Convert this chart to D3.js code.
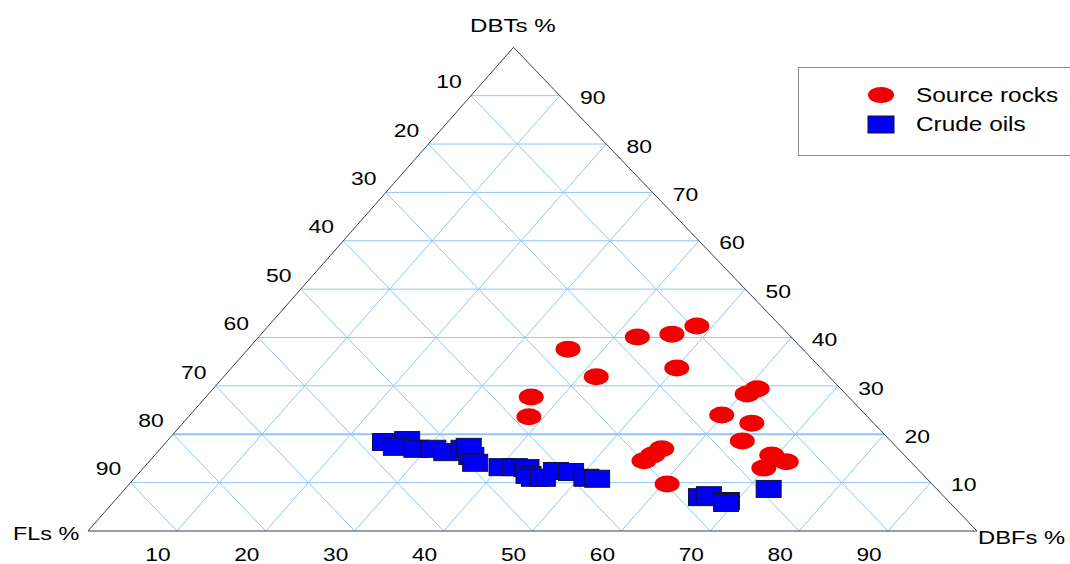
<!DOCTYPE html>
<html>
<head>
<meta charset="utf-8">
<title>Ternary plot - FLs / DBTs / DBFs</title>
<script src="https://d3js.org/d3.v7.min.js"></script>
<style>
    body { margin: 0; background: #fff; }
    svg { display: block; font-family: 'Liberation Sans', Arial, sans-serif; }
</style>
</head>
<body>
<svg id="chart" width="1070" height="564"></svg>
<script>
// Ternary data: [FLs %, DBTs %, DBFs %]
const sourceRocks = [
    [26.4, 37.6, 36.0], [17.3, 40.1, 42.6], [13.1, 40.7, 46.2], [9.4, 42.4, 48.2],
    [26.2, 31.9, 41.9], [16.2, 33.7, 50.1], [35.7, 27.7, 36.6], [38.1, 23.6, 38.3],
    [9.4, 29.4, 61.2], [11.1, 28.3, 60.6], [16.2, 24.0, 59.8], [13.7, 22.3, 64.0],
    [16.7, 18.6, 64.7], [26.6, 17.0, 56.4], [28.3, 15.7, 56.0], [29.9, 14.5, 55.6],
    [14.9, 15.7, 69.4], [14.0, 14.3, 71.7], [17.2, 13.0, 69.8], [29.8, 9.7, 60.5]
];
const crudeOils = [
    [57.0, 18.4, 24.6], [54.3, 18.8, 26.9], [56.3, 17.4, 26.3], [54.2, 17.0, 28.8],
    [52.3, 17.0, 30.7], [51.2, 16.3, 32.5], [48.9, 17.0, 34.1], [48.1, 17.4, 34.5],
    [48.8, 15.5, 35.7], [49.1, 14.1, 36.8], [46.6, 13.2, 40.2], [45.1, 13.2, 41.7],
    [43.9, 13.0, 43.1], [44.4, 11.6, 44.0], [44.1, 11.0, 44.9], [43.1, 11.0, 45.9],
    [40.9, 12.4, 46.7], [39.3, 12.2, 48.5], [38.2, 11.0, 50.8], [37.1, 10.8, 52.1],
    [27.4, 7.0, 65.6], [26.3, 7.4, 66.3], [24.9, 6.2, 68.9], [25.2, 5.8, 69.0],
    [18.9, 8.7, 72.4]
];
const gridTicks = [10, 20, 30, 40, 50, 60, 70, 80, 90];
const seriesNames = ["Source rocks", "Crude oils"];

const svg = d3.select("#chart");

// triangle corners: FLs bottom-left, DBFs bottom-right, DBTs top
const baseY = 531, topY = 47.3, leftX = 88, rightX = 977, topX = 513.5;
const y = d3.scaleLinear().domain([0, 100]).range([baseY, topY]);      // DBTs
const xBase = d3.scaleLinear().domain([0, 100]).range([leftX, rightX]); // DBFs along base
const shear = d3.scaleLinear().domain([0, 100]).range([0, topX - leftX]);

function project(fl, dbt, dbf) {
    return [xBase(dbf) + shear(dbt), y(dbt)];
}

const gridColor = "#8fc6f6";
const grid = svg.append("g");

gridTicks.forEach(k => {
    // DBTs constant (horizontal)
    let a = project(100 - k, k, 0), b = project(0, k, 100 - k);
    grid.append("line").attr("x1", a[0]).attr("y1", a[1]).attr("x2", b[0]).attr("y2", b[1])
        .attr("stroke", gridColor).attr("stroke-width", k === 20 ? 2 : 1);
    // FLs constant (parallel to right edge)
    a = project(k, 100 - k, 0); b = project(k, 0, 100 - k);
    grid.append("line").attr("x1", a[0]).attr("y1", a[1]).attr("x2", b[0]).attr("y2", b[1])
        .attr("stroke", gridColor).attr("stroke-width", 1);
    // DBFs constant (parallel to left edge)
    a = project(100 - k, 0, k); b = project(0, 100 - k, k);
    grid.append("line").attr("x1", a[0]).attr("y1", a[1]).attr("x2", b[0]).attr("y2", b[1])
        .attr("stroke", gridColor).attr("stroke-width", 1);
});

// triangle outline
const corners = [project(100, 0, 0), project(0, 0, 100), project(0, 100, 0)];
svg.append("path")
    .attr("d", "M" + corners.map(c => c.join(",")).join("L") + "Z")
    .attr("fill", "none").attr("stroke", "#3a3f4a").attr("stroke-width", 1);

// labels are drawn a little stretched sideways, like the source picture
function label(g, txt, x0, y0, size, sx, anchor) {
    g.append("text")
        .attr("transform", `translate(${x0},${y0}) scale(${sx},1)`)
        .attr("text-anchor", anchor || "middle")
        .attr("dominant-baseline", anchor ? "auto" : "central")
        .attr("font-size", size)
        .attr("fill", "#000")
        .text(txt);
}

const labels = svg.append("g");
gridTicks.forEach(k => {
    let p = project(k, 100 - k, 0);          // left edge, FLs
    label(labels, k, p[0] - 22, p[1] - 14, 18.5, 1.24);
    p = project(0, k, 100 - k);              // right edge, DBTs
    label(labels, k, p[0] + 33, p[1] + 2, 18.5, 1.24);
    p = project(100 - k, 0, k);              // base, DBFs
    label(labels, k, p[0] - 19, p[1] + 23.5, 18, 1.26);
});

label(labels, "DBTs %", 470, 32, 18, 1.34, "start");
label(labels, "FLs %", 13, 540, 18, 1.3, "start");
label(labels, "DBFs %", 978, 544, 18, 1.32, "start");

// data marks
const marks = svg.append("g");
marks.selectAll("ellipse.rock")
    .data(sourceRocks).enter().append("ellipse")
    .attr("class", "rock")
    .attr("cx", d => project(...d)[0]).attr("cy", d => project(...d)[1])
    .attr("rx", 12.5).attr("ry", 8.5)
    .attr("fill", "#f20000");

marks.selectAll("rect.oil")
    .data(crudeOils).enter().append("rect")
    .attr("class", "oil")
    .attr("x", d => project(...d)[0] - 12.5).attr("y", d => project(...d)[1] - 8.5)
    .attr("width", 25).attr("height", 17)
    .attr("fill", "#0000f5").attr("stroke", "#101040").attr("stroke-width", 1);

// legend
const legend = svg.append("g");
legend.append("rect").attr("x", 798.5).attr("y", 67.5).attr("width", 280).attr("height", 88)
    .attr("fill", "#fff").attr("stroke", "#8a8a8a").attr("stroke-width", 1);
legend.append("ellipse").attr("cx", 881).attr("cy", 95).attr("rx", 13).attr("ry", 8)
    .attr("fill", "#f20000");
legend.append("rect").attr("x", 868).attr("y", 116).attr("width", 26).attr("height", 17)
    .attr("fill", "#0000f5").attr("stroke", "#101040");
label(legend, seriesNames[0], 916, 102, 19.5, 1.25, "start");
label(legend, seriesNames[1], 916, 131, 19.5, 1.25, "start");
</script>
</body>
</html>
